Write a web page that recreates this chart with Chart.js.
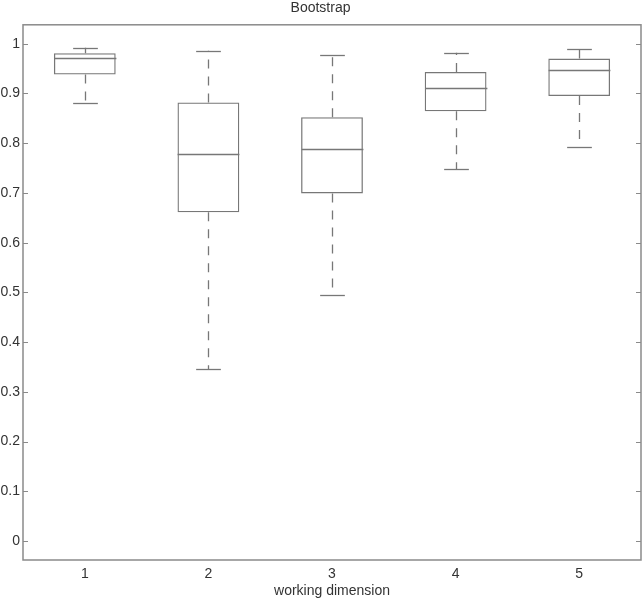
<!DOCTYPE html>
<html>
<head>
<meta charset="utf-8">
<script src="https://cdn.jsdelivr.net/npm/chart.js@4/dist/chart.umd.min.js"></script>
<style>
  html, body { margin: 0; padding: 0; background: #fff; }
  #wrap { width: 643px; height: 600px; }
</style>
</head>
<body>
<div id="wrap"><canvas id="box"></canvas></div>
<script>
// values
const dims = ['1', '2', '3', '4', '5'];
const lowerWhisker = [0.880, 0.346, 0.494, 0.748, 0.793];
const q1 = [0.938, 0.661, 0.699, 0.864, 0.895];
const median = [0.972, 0.778, 0.788, 0.910, 0.947];
const q3 = [0.981, 0.882, 0.852, 0.943, 0.970];
const upperWhisker = [0.992, 0.986, 0.977, 0.982, 0.990];
const yTicks = [0, 0.1, 0.2, 0.3, 0.4, 0.5, 0.6, 0.7, 0.8, 0.9, 1];

const lineCol = '#777';
const textCol = '#333';
const fontFam = 'Liberation Sans';

// median, whiskers, frame and inward ticks
const boxExtras = {
    id: 'boxExtras',
    afterDatasetsDraw(chart) {
        const ctx = chart.ctx;
        const x = chart.scales.x;
        const y = chart.scales.y;
        const area = chart.chartArea;
        const meta = chart.getDatasetMeta(0);
        ctx.save();
        ctx.strokeStyle = lineCol;
        ctx.lineWidth = 1.3;
        dims.forEach((d, i) => {
            const cx = Math.round(x.getPixelForValue(i)) + 0.5;
            const half = meta.data[i].width / 2;
            const capHalf = half * 0.4;
            // median
            ctx.setLineDash([]);
            const my = Math.round(y.getPixelForValue(median[i])) + 0.5;
            ctx.beginPath();
            ctx.moveTo(cx - half, my);
            ctx.lineTo(cx + half, my);
            ctx.stroke();
            // caps
            [lowerWhisker[i], upperWhisker[i]].forEach(v => {
                const py = Math.round(y.getPixelForValue(v)) + 0.5;
                ctx.beginPath();
                ctx.moveTo(cx - capHalf, py);
                ctx.lineTo(cx + capHalf, py);
                ctx.stroke();
            });
            // dashed whiskers
            ctx.setLineDash([9, 8]);
            ctx.beginPath();
            ctx.moveTo(cx, y.getPixelForValue(q3[i]));
            ctx.lineTo(cx, y.getPixelForValue(upperWhisker[i]));
            ctx.moveTo(cx, y.getPixelForValue(q1[i]));
            ctx.lineTo(cx, y.getPixelForValue(lowerWhisker[i]));
            ctx.stroke();
        });
        ctx.setLineDash([]);
        // frame
        ctx.strokeStyle = '#8a8a8a';
        ctx.lineWidth = 1.5;
        ctx.strokeRect(area.left, area.top, area.right - area.left, area.bottom - area.top);
        // inward ticks on both sides
        ctx.lineWidth = 1;
        yTicks.forEach(v => {
            const py = Math.round(y.getPixelForValue(v)) + 0.5;
            ctx.beginPath();
            ctx.moveTo(area.left, py);
            ctx.lineTo(area.left + 5, py);
            ctx.moveTo(area.right, py);
            ctx.lineTo(area.right - 5, py);
            ctx.stroke();
        });
        ctx.restore();
    }
};

new Chart(document.getElementById('box'), {
    type: 'bar',
    data: {
        labels: dims,
        datasets: [{
            label: 'box',
            data: q1.map((v, i) => [v, q3[i]]),
            backgroundColor: 'rgba(0,0,0,0)',
            borderColor: lineCol,
            borderWidth: 1.3,
            borderSkipped: false,
            barPercentage: 0.5,
            categoryPercentage: 1
        }]
    },
    options: {
        responsive: true,
        maintainAspectRatio: false,
        animation: false,
        layout: { padding: { left: 0, right: 2, top: 0, bottom: 0 } },
        plugins: {
            legend: { display: false },
            tooltip: { enabled: false },
            title: {
                display: true,
                text: 'Bootstrap',
                color: textCol,
                font: { family: fontFam, size: 14, weight: 'normal' },
                padding: { top: 0, bottom: 8 }
            }
        },
        scales: {
            x: {
                afterFit: axis => { axis.height = 40; },
                grid: { display: false, drawTicks: false },
                border: { display: false },
                ticks: {
                    color: textCol,
                    font: { family: fontFam, size: 14 },
                    padding: 6
                },
                title: {
                    display: true,
                    text: 'working dimension',
                    color: textCol,
                    font: { family: fontFam, size: 14 },
                    padding: { top: 0, bottom: 0 }
                }
            },
            y: {
                min: -0.038,
                max: 1.038,
                afterBuildTicks: axis => {
                    axis.ticks = yTicks.map(v => ({ value: v }));
                },
                afterFit: axis => { axis.width = 23; },
                grid: { display: false, drawTicks: false },
                border: { display: false },
                ticks: {
                    color: textCol,
                    font: { family: fontFam, size: 14 },
                    padding: 3,
                    callback: v => String(v)
                }
            }
        }
    },
    plugins: [boxExtras]
});
</script>
</body>
</html>
